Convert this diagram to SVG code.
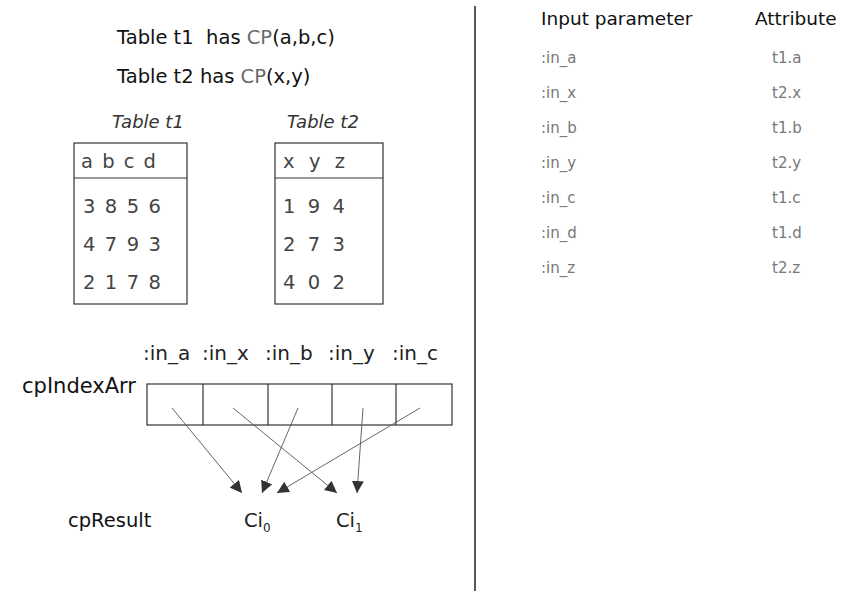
<svg xmlns="http://www.w3.org/2000/svg" width="853" height="592" viewBox="0 0 853 592">
<defs>
<style>
text{font-family:"DejaVu Sans","Verdana",sans-serif;}
.t{font-size:19.5px;fill:#111;}
.g{fill:#6a6a6a;}
.it{font-size:18px;font-style:italic;fill:#333;}
.cell{font-size:19.5px;fill:#444;}
.box{fill:none;stroke:#333;stroke-width:1.2;}
.lbl{font-size:20px;fill:#222;}
.par{font-size:15px;fill:#777;}
.hd{font-size:18.5px;fill:#111;}
.conn{fill:none;stroke:#555;stroke-width:0.9;marker-end:url(#ah);}
</style>
<marker id="ah" viewBox="0 0 10 10" refX="10" refY="5" markerWidth="12" markerHeight="12" markerUnits="userSpaceOnUse" orient="auto">
<path d="M0,0 L10,5 L0,10 z" fill="#333"/>
</marker>
</defs>
<rect width="853" height="592" fill="#fff"/>
<line x1="475" y1="6" x2="475" y2="591" stroke="#222" stroke-width="1.5"/>

<g id="title">
<text class="t" x="117" y="44">Table t1&#160; has <tspan class="g">CP</tspan>(a,b,c)</text>
<text class="t" x="117" y="83">Table t2 has <tspan class="g">CP</tspan>(x,y)</text>
</g>

<g id="table-t1">
<text class="it" x="112" y="128">Table t1</text>
<rect class="box" x="74" y="143" width="113" height="161"/>
<line class="box" x1="74" y1="178" x2="187" y2="178"/>
<text class="cell" x="81" y="168" textLength="75" lengthAdjust="spacing">a b c d</text>
<text class="cell" x="83" y="213" textLength="78" lengthAdjust="spacing">3 8 5 6</text>
<text class="cell" x="83" y="251" textLength="78" lengthAdjust="spacing">4 7 9 3</text>
<text class="cell" x="83" y="289" textLength="78" lengthAdjust="spacing">2 1 7 8</text>
</g>

<g id="table-t2">
<text class="it" x="287" y="128">Table t2</text>
<rect class="box" x="275" y="143" width="108" height="161"/>
<line class="box" x1="275" y1="178" x2="383" y2="178"/>
<text class="cell" x="283" y="168" textLength="62" lengthAdjust="spacing">x y z</text>
<text class="cell" x="283" y="213" textLength="62" lengthAdjust="spacing">1 9 4</text>
<text class="cell" x="283" y="251" textLength="62" lengthAdjust="spacing">2 7 3</text>
<text class="cell" x="283" y="289" textLength="62" lengthAdjust="spacing">4 0 2</text>
</g>

<g id="cpIndexArr">
<text class="lbl" x="143" y="360">:in_a</text>
<text class="lbl" x="202" y="360">:in_x</text>
<text class="lbl" x="265" y="360">:in_b</text>
<text class="lbl" x="328" y="360">:in_y</text>
<text class="lbl" x="392" y="360">:in_c</text>
<text x="22" y="393" style="font-size:21px;fill:#111">cpIndexArr</text>
<rect class="box" x="147" y="384" width="305" height="41"/>
<line class="box" x1="203" y1="384" x2="203" y2="425"/>
<line class="box" x1="268" y1="384" x2="268" y2="425"/>
<line class="box" x1="332" y1="384" x2="332" y2="425"/>
<line class="box" x1="396" y1="384" x2="396" y2="425"/>
</g>

<g id="cpResult">
<text x="68" y="527" style="font-size:19.5px;fill:#111">cpResult</text>
<text x="244" y="527" style="font-size:19.5px;fill:#222">Ci<tspan dy="5" style="font-size:12px">0</tspan></text>
<text x="336" y="527" style="font-size:19.5px;fill:#222">Ci<tspan dy="5" style="font-size:12px">1</tspan></text>
</g>

<g id="connectors">
<line class="conn" x1="172" y1="408" x2="242" y2="493"/>
<line class="conn" x1="233" y1="408" x2="337" y2="493"/>
<line class="conn" x1="298" y1="408" x2="262" y2="493"/>
<line class="conn" x1="363" y1="408" x2="357" y2="493"/>
<line class="conn" x1="420" y1="408" x2="277" y2="493"/>
</g>

<g id="mapping">
<text class="hd" x="541" y="25">Input parameter</text>
<text class="hd" x="755" y="25">Attribute</text>
<text class="par" x="541" y="63">:in_a</text><text class="par" x="772" y="63">t1.a</text>
<text class="par" x="541" y="98">:in_x</text><text class="par" x="772" y="98">t2.x</text>
<text class="par" x="541" y="133">:in_b</text><text class="par" x="772" y="133">t1.b</text>
<text class="par" x="541" y="168">:in_y</text><text class="par" x="772" y="168">t2.y</text>
<text class="par" x="541" y="203">:in_c</text><text class="par" x="772" y="203">t1.c</text>
<text class="par" x="541" y="238">:in_d</text><text class="par" x="772" y="238">t1.d</text>
<text class="par" x="541" y="273">:in_z</text><text class="par" x="772" y="273">t2.z</text>
</g>
</svg>
